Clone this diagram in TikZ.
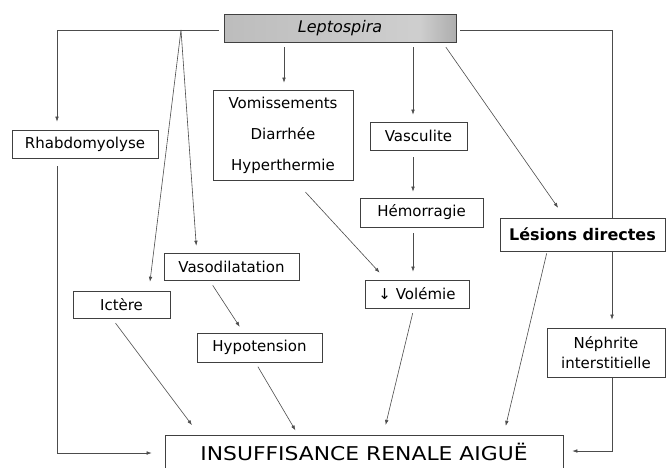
\documentclass[tikz,border=0pt]{standalone}
\usepackage{fontspec}
\setmainfont{DejaVu Sans}
\newfontfamily\irafont[FakeStretch=1.15]{DejaVu Sans}
\usetikzlibrary{arrows.meta,calc}
\pgfdeclarehorizontalshading{lepshade}{100bp}{color(0bp)=(gray!52); color(25bp)=(gray!52); color(67bp)=(gray!38); color(75bp)=(gray!64); color(100bp)=(gray!64)}
\begin{document}
\begin{tikzpicture}[x=1pt,y=-1pt,
  box/.style={draw=black!75, line width=0.7pt, inner sep=0pt, align=center, font=\fontsize{15}{18}\selectfont},
  arr/.style={draw=black!70, line width=0.6pt, -{Latex[length=5pt,width=3.6pt]}, shorten >=8pt, shorten <=5pt},
  ln/.style={draw=black!70, line width=0.6pt}]
\useasboundingbox (0,0) rectangle (666,467);
\fill[white] (0,0) rectangle (666,467);

\node[box, shade, shading=lepshade, minimum width=232pt, minimum height=28pt, font=\itshape\fontsize{16}{19}\selectfont] (lep) at (340,28) {Leptospira};
\node[box, minimum width=146pt, minimum height=28pt] (rhab) at (85,144) {Rhabdomyolyse};
\node[box, minimum width=140pt, minimum height=90pt, font=\fontsize{15}{31}\selectfont] (vom) at (283,135) {Vomissements\\Diarrhée\\Hyperthermie};
\node[box, minimum width=97pt, minimum height=28pt] (vasc) at (418.5,136) {Vasculite};
\node[box, minimum width=123pt, minimum height=29pt] (hemo) at (421.5,212.5) {Hémorragie};
\node[box, minimum width=165pt, minimum height=33pt, font=\bfseries\fontsize{16}{19}\selectfont] (les) at (582.5,234.5) {Lésions directes};
\node[box, minimum width=135pt, minimum height=27pt] (vaso) at (231.5,266.5) {Vasodilatation};
\node[box, minimum width=97pt, minimum height=27pt] (ict) at (121.5,304.5) {Ictère};
\node[box, minimum width=104pt, minimum height=28pt] (vol) at (417,294) {↓ Volémie};
\node[box, minimum width=125pt, minimum height=29pt] (hypo) at (259.5,347.5) {Hypotension};
\node[box, minimum width=118pt, minimum height=49pt, font=\fontsize{15}{20}\selectfont] (neph) at (606,352.5) {Néphrite\\interstitielle};
\node[box, minimum width=398pt, minimum height=34pt, font=\irafont\fontsize{19}{22}\selectfont] (ira) at (364,452) {INSUFFISANCE RENALE AIGUË};

\coordinate (tl) at (57,30);
\coordinate (j) at (181,30);
\coordinate (tr) at (612,30);
\coordinate (bl) at (57,453);
\coordinate (br) at (612,451);

% left branch
\draw[arr] ($(lep.west)+(0,2)$) -- (tl) -- (rhab.north -| tl);
\draw[arr, shorten <=0pt, shorten >=9pt] (j) -- ($(ict.north west)!0.78!(ict.north east)$);
\draw[arr, shorten <=0pt, shorten >=7pt] (j) -- ($(vaso.north west)!0.244!(vaso.north east)$);
\draw[arr, shorten <=8pt, shorten >=13pt] (rhab.south -| tl) -- (bl) -- (ira.west |- bl);

% middle
\draw[arr, shorten >=7pt] ($(lep.south)+(-56,0)$) -- ($(vom.north)+(1,0)$);
\draw[arr, shorten >=7pt] ($(lep.south)+(73,0)$) -- ($(vasc.north)+(-5.5,0)$);
\draw[arr, shorten <=7pt, shorten >=6pt] ($(vasc.south)+(-5.5,0)$) -- ($(hemo.north)+(-8.5,0)$);
\draw[arr, shorten <=6pt, shorten >=8pt] ($(hemo.south)+(-8.5,0)$) -- ($(vol.north)+(-4,0)$);
\draw[arr, shorten <=16pt, shorten >=9.5pt] ($(vom.south west)+(82,0)$) -- ($(vol.north west)+(21.4,0)$);
\draw[arr, shorten <=5pt, shorten >=10pt] ($(vol.south west)+(49.2,0)$) -- ($(ira.north west)+(218.6,0)$);

% right branch
\draw[arr, shorten <=6pt, shorten >=12pt] ($(lep.south)+(102.5,0)$) -- ($(les.north)+(-17.5,0)$);
\draw[ln] ($(lep.east)+(4,2)$) -- (tr) -- (les.north -| tr);
\draw[arr, shorten <=1pt, shorten >=8pt] (les.south -| tr) -- (neph.north -| tr);
\draw[arr, shorten <=1pt, shorten >=9pt] (neph.south -| tr) -- (br) -- (ira.east |- br);
\draw[arr, shorten <=2pt, shorten >=9pt] ($(les.south west)+(47.5,0)$) -- ($(ira.north west)+(339,0)$);

% lower left
\draw[arr, shorten <=6pt, shorten >=12pt] ($(ict.south west)+(39.3,0)$) -- ($(ira.north west)+(34.5,0)$);
\draw[arr, shorten <=6pt, shorten >=7pt] ($(vaso.south west)+(45.8,0)$) -- ($(hypo.north west)+(46.9,0)$);
\draw[arr, shorten <=5pt, shorten >=5pt] ($(hypo.south west)+(58.7,0)$) -- ($(ira.north west)+(133.3,0)$);
\end{tikzpicture}
\end{document}
